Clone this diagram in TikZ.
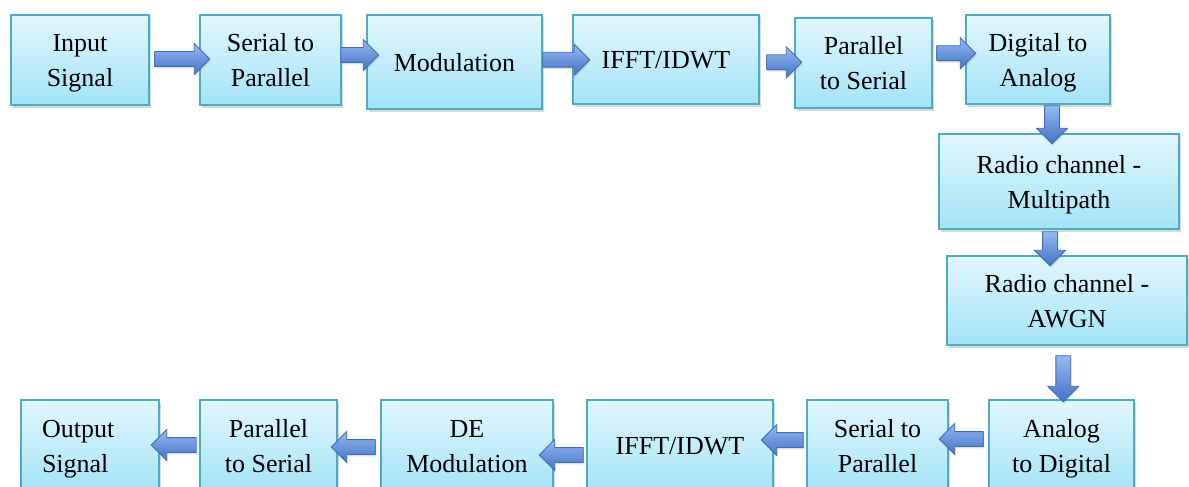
\documentclass[tikz,border=0pt]{standalone}
\usepackage{fontspec}
\setmainfont{Liberation Serif}
\usepackage{tikz}
\usetikzlibrary{shapes.arrows,shadows,calc}

\definecolor{boxtop}{RGB}{226,247,253}
\definecolor{boxbot}{RGB}{163,227,248}
\definecolor{boxline}{RGB}{75,172,198}
\definecolor{arrtop}{RGB}{150,185,240}
\definecolor{arrbot}{RGB}{66,115,198}
\definecolor{arrline}{RGB}{60,108,188}

\tikzset{
  block/.style={draw=boxline, line width=1.3pt, top color=boxtop, bottom color=boxbot,
    align=center, inner sep=0pt, minimum height=90pt, text depth=-4pt,
    font=\fontsize{26}{35}\selectfont,
    drop shadow={shadow xshift=1.5pt, shadow yshift=-2.5pt, opacity=0.3}},
  fatarrow/.style={single arrow, single arrow head extend=8pt, inner sep=7pt,
    draw=arrline, line width=0.8pt, top color=arrtop, bottom color=arrbot,
    drop shadow={shadow xshift=1pt, shadow yshift=-2pt, opacity=0.25}},
  leftarrow/.style={fatarrow, shape border rotate=180},
  downarrow/.style={fatarrow, shape border rotate=270}
}

\begin{document}
\begin{tikzpicture}[x=1pt, y=-1pt]
  \useasboundingbox (0,0) rectangle (1189,487);
  \fill[white] (0,0) rectangle (1189,487);
  \clip (0,0) rectangle (1189,487);

  % transmitter
  \node[block, minimum width=138pt] at (80,60) (inp) {Input\\Signal};
  \node[block, minimum width=141pt] at (270.5,60) (sp1) {Serial to\\Parallel};
  \node[block, minimum width=175pt, minimum height=94pt] at (454.5,62) (mod) {Modulation};
  \node[block, minimum width=186pt, minimum height=89pt] at (666,59.5) (ifft) {IFFT/IDWT};
  \node[block, minimum width=137pt] at (863.5,63) (ps1) {Parallel\\to Serial};
  \node[block, minimum width=144pt, minimum height=89pt] at (1038,59.5) (dac) {Digital to\\Analog};

  % channel
  \node[block, minimum width=240pt, minimum height=95pt] at (1059,181.5) (rcm) {Radio channel -\\Multipath};
  \node[block, minimum width=240pt, minimum height=89pt] at (1067,300.5) (rca) {Radio channel -\\AWGN};

  % receiver
  \node[block, minimum width=145pt, minimum height=92pt] at (1061.5,446) (adc) {Analog\\to Digital};
  \node[block, minimum width=141pt, minimum height=92pt] at (877.5,446) (sp2) {Serial to\\Parallel};
  \node[block, minimum width=186pt, minimum height=92pt] at (680,446) (ifft2) {IFFT/IDWT};
  \node[block, minimum width=172pt, minimum height=92pt] at (467,446) (demod) {DE\\Modulation};
  \node[block, minimum width=137pt, minimum height=92pt] at (268.5,446) (ps2) {Parallel\\to Serial};
  \node[block, minimum width=138pt, minimum height=92pt, text width=96pt, align=left, text depth=34pt] at (90,446) (out) {Output\\Signal};

  % block arrows
  \node[fatarrow, minimum height=55pt, xshift=4pt, yshift=1pt] at ($(inp.east)!.5!(sp1.west)$) (a1) {};
  \node[fatarrow, minimum height=38pt, xshift=2pt, yshift=6pt] at ($(sp1.east)!.5!(mod.west)$) (a2) {};
  \node[fatarrow, minimum height=47pt, xshift=5pt, yshift=1pt] at ($(mod.east)!.5!(ifft.west)$) (a3) {};
  \node[fatarrow, minimum height=35pt, xshift=3.5pt, yshift=-1pt] at ($(ifft.east)!.5!(ps1.west)$) (a4) {};
  \node[fatarrow, minimum height=39pt, xshift=3.5pt, yshift=8pt] at ($(ps1.east)!.5!(dac.west)$) (a5) {};
  \node[downarrow, minimum height=38pt, xshift=3.5pt, yshift=-2pt] at ($(dac.south)!.5!(rcm.north)$) (a6) {};
  \node[downarrow, minimum height=34pt, xshift=-13pt, yshift=-2.5pt] at ($(rcm.south)!.5!(rca.north)$) (a7) {};
  \node[downarrow, minimum height=46pt, xshift=-1pt, yshift=-2.5pt] at ($(rca.south)!.5!(adc.north)$) (a8) {};
  \node[leftarrow, minimum height=44pt, xshift=-3.5pt, yshift=7pt] at ($(adc.west)!.5!(sp2.east)$) (a9) {};
  \node[leftarrow, minimum height=42pt, xshift=-4pt, yshift=6pt] at ($(sp2.west)!.5!(ifft2.east)$) (a10) {};
  \node[leftarrow, minimum height=44pt, xshift=-5pt, yshift=-9pt] at ($(ifft2.west)!.5!(demod.east)$) (a11) {};
  \node[leftarrow, minimum height=44pt, xshift=-2pt, yshift=-1pt] at ($(demod.west)!.5!(ps2.east)$) (a12) {};
  \node[leftarrow, minimum height=45pt, xshift=-2pt, yshift=1pt] at ($(ps2.west)!.5!(out.east)$) (a13) {};
\end{tikzpicture}
\end{document}
